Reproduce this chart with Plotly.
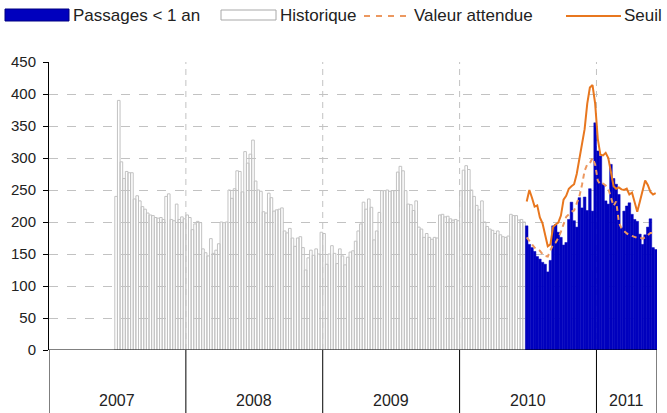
import plotly.graph_objects as go

# ---------------- data (weekly values) ----------------
annees = ["2007", "2008", "2009", "2010", "2011"]

historique_2007 = [240, 390, 294, 268, 279, 277, 277, 236, 241, 233, 224, 220, 214, 211,
                   210, 207, 206, 207, 204, 240, 244, 204, 202, 228, 204, 208, 205]
historique_2008 = [211, 207, 188, 197, 201, 199, 158, 152, 147, 174, 151, 156, 166, 200,
                   199, 200, 250, 237, 252, 280, 279, 247, 310, 292, 306, 328, 264, 250,
                   248, 216, 214, 245, 238, 217, 219, 220, 222, 186, 183, 190, 175, 162,
                   175, 177, 160, 125, 144, 156, 148, 158, 150, 184]
historique_2009 = [182, 134, 150, 163, 151, 135, 158, 147, 133, 145, 153, 155, 170, 186,
                   197, 231, 220, 236, 223, 172, 186, 215, 249, 249, 250, 248, 249, 249,
                   278, 287, 280, 249, 228, 227, 218, 233, 192, 189, 176, 182, 176, 173,
                   176, 175, 211, 212, 208, 209, 205, 203, 204, 202]
historique_2010 = [249, 281, 288, 282, 250, 240, 226, 219, 233, 200, 193, 189, 187, 182,
                   186, 180, 177, 176, 178, 212, 210, 210, 203, 204, 200]

passages_moins_1an = [194, 165, 160, 154, 146, 142, 137, 134, 122, 140, 194, 196, 184, 176,
                      164, 168, 204, 231, 202, 192, 238, 222, 239, 218, 252, 217, 355, 311,
                      303, 259, 233, 228, 290, 268, 259, 243, 191, 217, 225, 230, 212, 204,
                      201, 181, 165, 180, 192, 205, 160, 157]
valeur_attendue = [176, 170, 165, 160, 158, 155, 150, 147, 146, 155, 165, 168, 175, 185,
                   198, 208, 212, 216, 218, 230, 240, 258, 280, 290, 292, 300, 290, 265,
                   258, 260, 257, 252, 238, 225, 232, 200, 190, 186, 182, 180, 178, 176,
                   175, 176, 174, 176, 180, 183, 183, 182]
seuil = [232, 250, 238, 224, 226, 207, 198, 180, 162, 165, 192, 196, 199, 210,
         235, 241, 252, 256, 259, 275, 300, 318, 345, 385, 410, 414, 385, 330,
         305, 304, 308, 300, 278, 256, 252, 254, 251, 250, 252, 243, 246, 229,
         216, 232, 250, 265, 258, 247, 243, 245]

y_ticks = [0, 50, 100, 150, 200, 250, 300, 350, 400, 450]

# ---------------- positions ----------------
SEMAINES_PAR_AN = 52
debut_historique = 25          # week index (from start of 2007) of the first bar
historique = historique_2007 + historique_2008 + historique_2009 + historique_2010
debut_passages = debut_historique + len(historique)
fin = debut_passages + len(passages_moins_1an)

x_hist = [debut_historique + k + 0.5 for k in range(len(historique))]
x_pass = [debut_passages + k + 0.5 for k in range(len(passages_moins_1an))]

W, H = 667, 413
ML, MR, MT, MB = 49, 10, 62, 63
PW, PH = W - ML - MR, H - MT - MB


def px(x):
    return (x - ML) / PW


def py(y):
    return (H - MB - y) / PH


BLUE = "#0000BE"
GREY = "#C2C2C2"
ORANGE = "#E8771F"
ORANGE_L = "#EC9860"
FONT = "Liberation Sans, Arial, sans-serif"
TXT = "#222222"

fig = go.Figure()
fig.add_bar(x=x_hist, y=historique, width=1, name="Historique", hoverinfo="skip",
            marker=dict(color="rgba(255,255,255,0)", line=dict(color=GREY, width=1)))
fig.add_bar(x=x_pass, y=passages_moins_1an, width=1, name="Passages < 1 an", hoverinfo="skip",
            marker=dict(color=BLUE, line=dict(color=BLUE, width=0.5)))
fig.add_scatter(x=x_pass, y=valeur_attendue, mode="lines", name="Valeur attendue", hoverinfo="skip",
                line=dict(color=ORANGE_L, width=2, dash="5px,4px"))
fig.add_scatter(x=x_pass, y=seuil, mode="lines", name="Seuil", hoverinfo="skip",
                line=dict(color=ORANGE, width=2))

shapes = []
annotations = []
bornes = [SEMAINES_PAR_AN * k for k in range(len(annees))]
# dashed year separators inside the plot
for b in bornes[1:]:
    shapes.append(dict(type="line", xref="x", yref="y", x0=b, x1=b, y0=0, y1=y_ticks[-1],
                       line=dict(color=GREY, width=1, dash="6px,5px"), layer="below"))
# category axis: bottom line + separators + labels
shapes.append(dict(type="line", xref="x", yref="y", x0=0, x1=fin, y0=0, y1=0,
                   line=dict(color="black", width=1)))
for b in bornes + [fin]:
    shapes.append(dict(type="line", xref="x", yref="paper", x0=b, x1=b, y0=py(H + 2), y1=0,
                       line=dict(color="black", width=1)))
limites = bornes + [fin]
for k, a in enumerate(annees):
    annotations.append(dict(x=(limites[k] + limites[k + 1]) / 2, y=py(400), xref="x", yref="paper",
                            text=a, showarrow=False, xanchor="center", yanchor="middle",
                            font=dict(family=FONT, size=16, color=TXT)))

# manual legend
ly = 15
shapes.append(dict(type="rect", xref="paper", yref="paper", x0=px(5), x1=px(69),
                   y0=py(21), y1=py(9), fillcolor=BLUE, line=dict(color="#000080", width=1)))
shapes.append(dict(type="rect", xref="paper", yref="paper", x0=px(221), x1=px(276),
                   y0=py(20), y1=py(10), fillcolor="white", line=dict(color="#A8A8A8", width=1)))
shapes.append(dict(type="line", xref="paper", yref="paper", x0=px(364), x1=px(410),
                   y0=py(ly + 1), y1=py(ly + 1), line=dict(color=ORANGE_L, width=2, dash="6px,6px")))
shapes.append(dict(type="line", xref="paper", yref="paper", x0=px(566), x1=px(621),
                   y0=py(ly + 1), y1=py(ly + 1), line=dict(color=ORANGE, width=2)))
for txt, x0 in [("Passages < 1 an", 71), ("Historique", 278), ("Valeur attendue", 412), ("Seuil", 622)]:
    annotations.append(dict(x=px(x0), y=py(ly), xref="paper", yref="paper", text=txt,
                            showarrow=False, xanchor="left", yanchor="middle",
                            font=dict(family=FONT, size=17, color=TXT)))

fig.update_layout(
    width=W, height=H,
    margin=dict(l=ML, r=MR, t=MT, b=MB, pad=0),
    paper_bgcolor="white", plot_bgcolor="white",
    barmode="overlay", bargap=0,
    showlegend=False, hovermode=False,
    shapes=shapes, annotations=annotations,
    xaxis=dict(range=[0, fin], showticklabels=False, showgrid=False, zeroline=False,
               showline=False, ticks=""),
    yaxis=dict(range=[0, y_ticks[-1]], tickvals=y_ticks, showgrid=True, gridcolor=GREY,
               griddash="dash", gridwidth=1, zeroline=False, showline=True, linecolor="black",
               linewidth=1, ticks="outside", ticklen=5, tickcolor="black",
               tickfont=dict(family=FONT, size=15, color=TXT), ticklabelstandoff=4),
)

fig.write_html("out.html", config={"displayModeBar": False, "staticPlot": True},
               post_script="document.body.style.margin='0';document.body.style.overflow='hidden';")
